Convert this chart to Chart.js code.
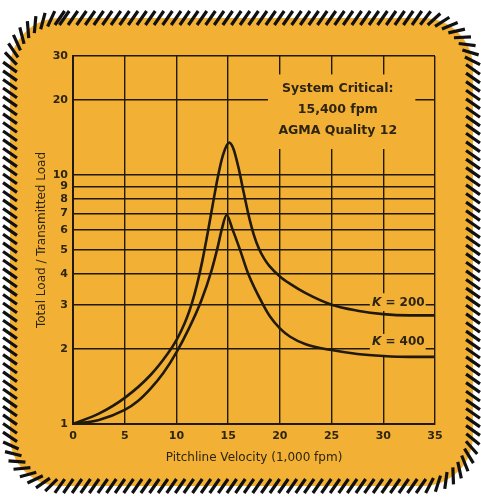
<!DOCTYPE html>
<html><head><meta charset="utf-8">
<script src="https://cdn.jsdelivr.net/npm/chart.js@4"></script>
<style>html,body{margin:0;padding:0;background:#fff;}canvas{display:block}</style>
</head><body>
<canvas id="c" width="481" height="499"></canvas>
<script>
// ---- data ----
const xTicks = [0, 5, 10, 15, 20, 25, 30, 35];
const yTicks = [1, 2, 3, 4, 5, 6, 7, 8, 9, 10, 20, 30];
const k200X = [0, 2.5, 5, 7.5, 9.2, 10, 10.5, 11, 11.5, 12, 12.5, 13, 13.5, 14, 14.5, 15.1, 15.5, 16, 16.5, 17, 17.5, 18, 18.5, 19, 20, 21, 22.5, 25, 27.5, 30, 32.5, 35];
const k200Y = [1, 1.100, 1.273, 1.573, 1.927, 2.173, 2.383, 2.662, 3.058, 3.644, 4.506, 5.782, 7.557, 9.79, 12.0, 13.47, 12.76, 10.70, 8.51, 6.83, 5.72, 5.03, 4.60, 4.30, 3.91, 3.65, 3.35, 3.01, 2.85, 2.76, 2.73, 2.73];
const k400X = [0, 2.5, 5, 6.25, 7.5, 8.75, 10, 11.2, 12.4, 13.4, 14, 14.4, 14.85, 15.45, 16.15, 16.95, 18.4, 19.05, 20, 21, 22.5, 25, 27.5, 30, 32.5, 35];
const k400Y = [1, 1.038, 1.139, 1.234, 1.387, 1.606, 1.94, 2.415, 3.126, 4.14, 5.15, 6.08, 6.9, 6.0, 5.0, 4.0, 3.0, 2.7, 2.42, 2.24, 2.09, 1.98, 1.91, 1.875, 1.86, 1.86];
const seriesNames = ['200', '400'];
const noteLines = ['System Critical:', '15,400 fpm', 'AGMA Quality 12'];
const xTitle = 'Pitchline Velocity (1,000 fpm)';
const yTitle = 'Total Load / Transmitted Load';

// ---- styles ----
const ORANGE = '#F2B134';
const INK = '#21190c';
const TXT = '#2e2412';
const FAM = "'DejaVu Sans', sans-serif";

function roundedPath(ctx, x0, y0, x1, y1, r) {
  ctx.beginPath();
  ctx.moveTo(x0 + r, y0);
  ctx.lineTo(x1 - r, y0);
  ctx.arc(x1 - r, y0 + r, r, -Math.PI / 2, 0);
  ctx.lineTo(x1, y1 - r);
  ctx.arc(x1 - r, y1 - r, r, 0, Math.PI / 2);
  ctx.lineTo(x0 + r, y1);
  ctx.arc(x0 + r, y1 - r, r, Math.PI / 2, Math.PI);
  ctx.lineTo(x0, y0 + r);
  ctx.arc(x0 + r, y0 + r, r, Math.PI, 1.5 * Math.PI);
  ctx.closePath();
}

function perimeterSegments(x0, y0, x1, y1, r) {
  const q = Math.PI / 2 * r;
  const arc = (cx, cy, a0) => ({ len: q, f: t => { const a = a0 + t * Math.PI / 2; return { x: cx + r * Math.cos(a), y: cy + r * Math.sin(a), tx: -Math.sin(a), ty: Math.cos(a) }; } });
  const line = (ax, ay, bx, by) => { const L = Math.hypot(bx - ax, by - ay); return { len: L, f: t => ({ x: ax + (bx - ax) * t, y: ay + (by - ay) * t, tx: (bx - ax) / L, ty: (by - ay) / L }) }; };
  return [
    line(x0 + r, y0, x1 - r, y0), arc(x1 - r, y0 + r, -Math.PI / 2),
    line(x1, y0 + r, x1, y1 - r), arc(x1 - r, y1 - r, 0),
    line(x1 - r, y1, x0 + r, y1), arc(x0 + r, y1 - r, Math.PI / 2),
    line(x0, y1 - r, x0, y0 + r), arc(x0 + r, y0 + r, Math.PI)
  ];
}

const framePlugin = {
  id: 'frame',
  beforeDraw(chart) {
    const ctx = chart.ctx;
    const W = chart.width, H = chart.height;
    ctx.save();
    ctx.fillStyle = '#fff';
    ctx.fillRect(0, 0, W, H);
    const x0 = 10, y0 = 18, x1 = 473, y1 = 486, r = 50;
    roundedPath(ctx, x0, y0, x1, y1, r);
    ctx.fillStyle = ORANGE;
    ctx.fill();
    const segs = perimeterSegments(x0, y0, x1, y1, r);
    const total = segs.reduce((a, s) => a + s.len, 0);
    const step = 8.6, L = 17, th = -55 * Math.PI / 180;
    const c = Math.cos(th), sn = Math.sin(th);
    ctx.strokeStyle = '#111';
    ctx.lineWidth = 3.2;
    ctx.lineCap = 'butt';
    ctx.beginPath();
    for (let d = step / 2; d < total; d += step) {
      let acc = 0, p = null;
      for (const s of segs) {
        if (d <= acc + s.len) { p = s.f((d - acc) / s.len); break; }
        acc += s.len;
      }
      if (!p) continue;
      const dx = p.tx * c - p.ty * sn, dy = p.tx * sn + p.ty * c;
      ctx.moveTo(p.x - dx * L / 2, p.y - dy * L / 2);
      ctx.lineTo(p.x + dx * L / 2, p.y + dy * L / 2);
    }
    ctx.stroke();
    ctx.restore();
  },
  beforeDatasetsDraw(chart) {
    const ctx = chart.ctx, xs = chart.scales.x, ys = chart.scales.y;
    const clear = (xa, xb, ya, yb) => {
      const px0 = xs.getPixelForValue(xa), px1 = xs.getPixelForValue(xb);
      const py0 = ys.getPixelForValue(ya), py1 = ys.getPixelForValue(yb);
      ctx.fillStyle = ORANGE;
      ctx.fillRect(px0, py0, px1 - px0, py1 - py0);
    };
    ctx.save();
    clear(18.85, 33.1, 25.3, 12.7);
    clear(28.7, 34.1, 3.35, 2.84);
    clear(28.7, 34.1, 2.3, 1.86);
    ctx.restore();
  },
  afterDraw(chart) {
    const ctx = chart.ctx, xs = chart.scales.x, ys = chart.scales.y;
    ctx.save();
    ctx.fillStyle = TXT;
    ctx.textAlign = 'center';
    ctx.textBaseline = 'middle';
    ctx.font = 'bold 12.5px ' + FAM;
    const noteY = [22.07, 18.2, 14.97];
    const cx = xs.getPixelForValue(25.6);
    noteLines.forEach((t, i) => ctx.fillText(t, cx, ys.getPixelForValue(noteY[i])));
    const labY = [3.06, 2.13];
    seriesNames.forEach((n, i) => {
      const y = ys.getPixelForValue(labY[i]);
      const xl = xs.getPixelForValue(28.9);
      ctx.textAlign = 'left';
      ctx.font = 'italic bold 12px ' + FAM;
      ctx.fillText('K', xl, y);
      const w = ctx.measureText('K').width;
      ctx.font = 'bold 12px ' + FAM;
      ctx.fillText(' = ' + n, xl + w, y);
    });
    ctx.restore();
  }
};

const toPts = (xa, ya) => xa.map((x, i) => ({ x, y: ya[i] }));

new Chart(document.getElementById('c'), {
  type: 'line',
  data: {
    datasets: [
      { label: 'K = 200', data: toPts(k200X, k200Y), borderColor: INK, borderWidth: 2.6, pointRadius: 0, fill: false, cubicInterpolationMode: 'monotone' },
      { label: 'K = 400', data: toPts(k400X, k400Y), borderColor: INK, borderWidth: 2.6, pointRadius: 0, fill: false, cubicInterpolationMode: 'monotone' }
    ]
  },
  options: {
    responsive: false, animation: false, devicePixelRatio: 1,
    layout: { padding: { left: 0, right: 46, top: 56, bottom: 0 } },
    plugins: { legend: { display: false }, tooltip: { enabled: false } },
    scales: {
      x: {
        type: 'linear', min: 0, max: 35,
        afterBuildTicks: s => { s.ticks = xTicks.map(v => ({ value: v })); },
        afterFit: s => { s.height = 75; },
        grid: { color: INK, lineWidth: 1.4, drawTicks: false },
        border: { color: INK, width: 2 },
        ticks: { padding: 6, autoSkip: false, maxRotation: 0, color: TXT, font: { family: FAM, size: 11, weight: 'bold' }, callback: v => String(v) },
        title: { display: true, text: xTitle, color: TXT, font: { family: FAM, size: 12 }, padding: { top: 0, bottom: 33.8 } }
      },
      y: {
        type: 'logarithmic', min: 1, max: 30,
        afterBuildTicks: s => { s.ticks = yTicks.map(v => ({ value: v })); },
        afterFit: s => { s.width = 73; },
        grid: { color: INK, lineWidth: 1.4, drawTicks: false },
        border: { color: INK, width: 2 },
        ticks: { padding: 5, autoSkip: false, color: TXT, font: { family: FAM, size: 11, weight: 'bold' }, callback: v => String(v) },
        title: { display: true, text: yTitle, color: TXT, font: { family: FAM, size: 12 }, padding: { top: 34.8, bottom: 0 } }
      }
    }
  },
  plugins: [framePlugin]
});
</script>
</body></html>
